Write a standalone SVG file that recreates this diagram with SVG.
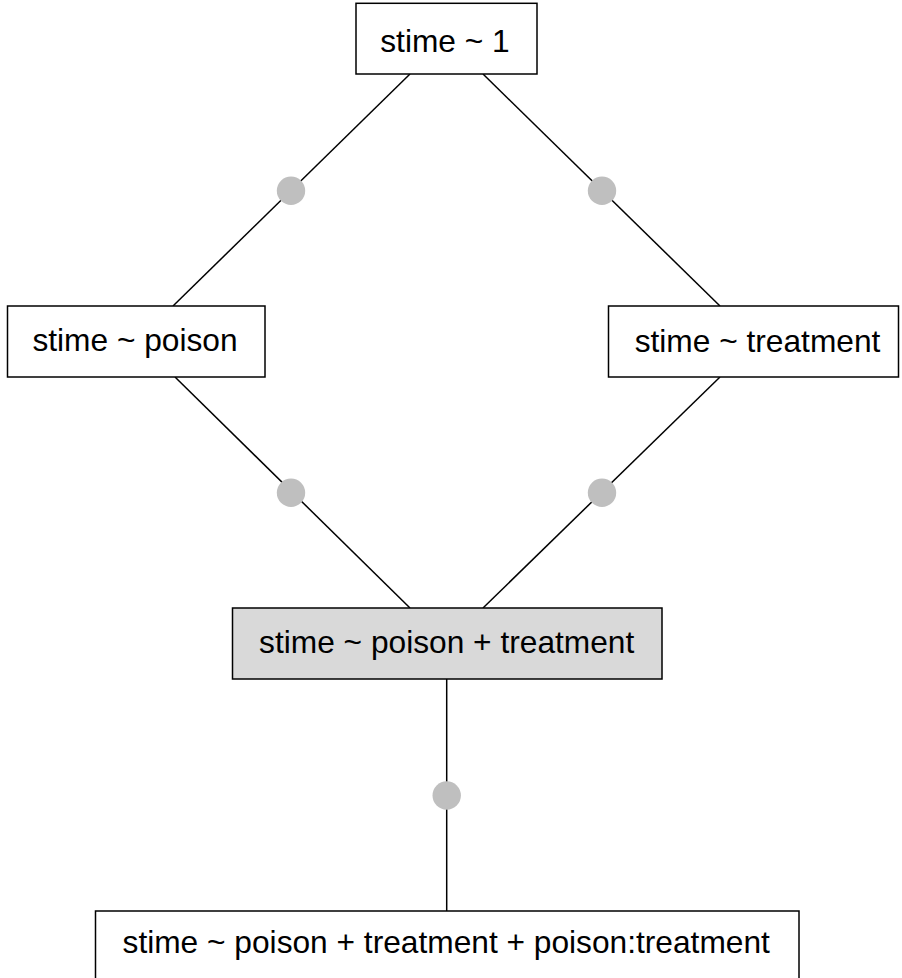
<svg xmlns="http://www.w3.org/2000/svg" width="902" height="978" viewBox="0 0 902 978">
<style>
.box{fill:#ffffff;stroke:#000000;stroke-width:1.5}
.sel{fill:#d9d9d9}
.lbl{font-family:"Liberation Sans",Arial,sans-serif;font-size:31.7px;fill:#000000;text-anchor:middle}
.edge{stroke:#000000;stroke-width:1.5;fill:none}
.dot{fill:#bfbfbf;stroke:none}
</style>
<rect x="0" y="0" width="902" height="978" fill="#ffffff"/>
<g id="connectors">
<line class="edge" x1="410" y1="74" x2="173" y2="306"/>
<line class="edge" x1="483" y1="74" x2="720" y2="306"/>
<line class="edge" x1="175" y1="377" x2="410" y2="608"/>
<line class="edge" x1="720" y1="377" x2="483" y2="608"/>
<line class="edge" x1="446.7" y1="679" x2="446.7" y2="911"/>
<circle class="dot" cx="291" cy="190.7" r="14.2"/>
<circle class="dot" cx="602" cy="190.7" r="14.2"/>
<circle class="dot" cx="291" cy="492.7" r="14.2"/>
<circle class="dot" cx="602" cy="492.7" r="14.2"/>
<circle class="dot" cx="446.7" cy="795.5" r="14.2"/>
</g>
<g id="n1">
<rect class="box" x="356" y="3.3" width="181" height="70.7"/>
<text class="lbl" x="445" y="52">stime ~ 1</text>
</g>
<g id="n2">
<rect class="box" x="7.5" y="306" width="257.5" height="71"/>
<text class="lbl" x="135" y="351">stime ~ poison</text>
</g>
<g id="n3">
<rect class="box" x="608.5" y="306" width="290" height="71"/>
<text class="lbl" x="757.5" y="352">stime ~ treatment</text>
</g>
<g id="n4">
<rect class="box sel" x="232.5" y="608" width="429.5" height="71"/>
<text class="lbl" x="446.7" y="652.6">stime ~ poison + treatment</text>
</g>
<g id="n5">
<rect class="box" x="95.5" y="911" width="703.5" height="90"/>
<text class="lbl" x="446.2" y="953">stime ~ poison + treatment + poison:treatment</text>
</g>
</svg>
